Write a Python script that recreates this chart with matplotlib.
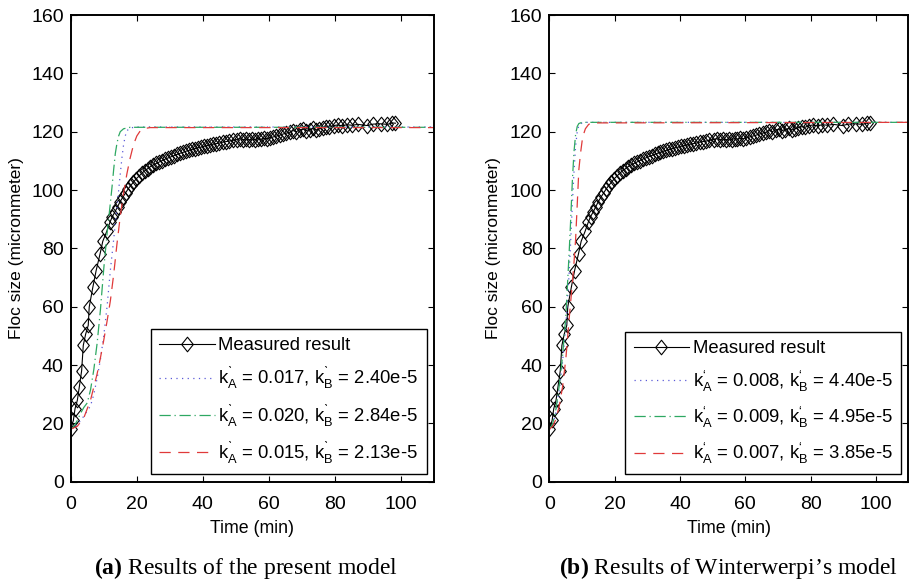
import numpy as np
import matplotlib
matplotlib.use("Agg")
import matplotlib.pyplot as plt

plt.rcParams['font.family'] = ['Liberation Sans', 'DejaVu Sans']
plt.rcParams['mathtext.fontset'] = 'custom'
plt.rcParams['mathtext.rm'] = 'Liberation Serif'
plt.rcParams['mathtext.bf'] = 'Liberation Serif:bold'
plt.rcParams['mathtext.fallback'] = 'stixsans'

# measured floc size (same series in both panels)
t_meas = [0, 0.8, 1.3, 2.0, 2.6, 3.3, 3.8, 4.5, 5.3, 5.6, 6.7, 7.7, 8.9, 9.7, 10.9,
          11.9, 12.6, 13.4, 14.2, 14.9, 15.8, 16.6, 17.4, 18.2, 19.0, 19.8, 20.7,
          21.5, 22.4, 23.3, 24.1, 25.0, 25.9, 26.8, 27.7, 28.6, 29.5, 30.4, 31.3,
          32.2, 33.1, 34.0, 34.9, 35.8, 36.7, 37.6, 38.5, 39.4, 40.3, 41.2, 42.1,
          43.0, 44.0, 45.0, 46.0, 47.0, 48.0, 49.0, 50.3, 51.3, 52.2, 53.1, 54.0,
          54.9, 55.8, 56.7, 57.6, 58.5, 59.4, 60.3, 61.3, 62.3, 63.3, 64.3, 65.3,
          66.3, 67.3, 68.3, 69.3, 70.3, 71.3, 72.3, 73.3, 74.3, 75.3, 76.3, 77.3,
          78.3, 79.6, 80.8, 82.2, 83.6, 85.1, 87.0, 89.8, 91.6, 93.8, 95.9, 97.4, 98.3]
y_meas = [18.2, 21.0, 25.0, 27.9, 32.5, 38.0, 46.7, 50.5, 53.6, 59.9, 66.7, 72.4, 78.2,
          82.4, 85.8, 89.0, 90.9, 92.5, 94.3, 95.9, 97.6, 99.0, 100.4, 101.6, 102.7,
          103.8, 104.8, 105.7, 106.6, 107.3, 108.0, 108.6, 109.1, 109.6, 110.1, 110.6,
          111.0, 111.4, 111.8, 112.2, 112.6, 112.9, 113.3, 113.6, 113.9, 114.2, 114.5,
          114.7, 115.0, 115.2, 115.5, 115.7, 115.9, 116.1, 116.4, 116.6, 116.8, 117.0,
          117.3, 117.6, 117.3, 117.5, 117.2, 117.5, 117.3, 117.6, 117.4, 117.7, 117.6,
          117.9, 118.2, 118.5, 118.8, 119.2, 119.5, 119.8, 120.4, 120.0, 120.6, 120.9,
          120.4, 120.7, 121.1, 120.6, 121.0, 121.4, 121.7, 121.5, 122.1, 122.3, 122.0,
          122.4, 122.2, 122.5, 122.1, 122.6, 122.7, 122.5, 123.0, 122.9]

# (a) present model
a_t1 = [0, 2, 4, 6, 7, 8, 9, 10, 11, 12, 13, 14, 15, 15.5, 16, 16.5, 17, 18, 20, 110]
a_y1 = [18, 19.5, 22.5, 26, 30, 35.5, 42, 50, 60, 72.5, 83, 94, 105.5, 111, 115.5,
        118.5, 120.3, 121.3, 121.6, 121.6]
a_t2 = [0, 1, 2, 3, 4, 5, 6, 7, 8, 9, 10, 11, 12, 12.5, 13, 13.5, 14, 14.5, 15, 16, 18, 110]
a_y2 = [18, 19, 21, 23.5, 25.5, 27, 31.5, 38.5, 47.5, 59, 73, 85, 95.5, 101, 107,
        112.5, 116, 118.5, 120, 121, 121.5, 121.5]
a_t3 = [0, 2, 4, 6, 8, 9, 10, 11, 12, 13, 14, 15, 16, 17, 18, 19, 20, 21, 22, 24, 110]
a_y3 = [18, 19, 22, 28, 37, 42.5, 48.5, 55, 62, 71, 81.5, 91, 99, 105.5, 111, 115.5,
        118.5, 120.2, 121, 121.4, 121.4]
a_labels = ['$\\mathregular{k^{\u02cb}_{A}}$ = 0.017, $\\mathregular{k^{\u02cb}_{B}}$ = 2.40e-5',
            '$\\mathregular{k^{\u02cb}_{A}}$ = 0.020, $\\mathregular{k^{\u02cb}_{B}}$ = 2.84e-5',
            '$\\mathregular{k^{\u02cb}_{A}}$ = 0.015, $\\mathregular{k^{\u02cb}_{B}}$ = 2.13e-5']

# (b) Winterwerp model
b_t1 = [0, 1, 2, 3, 4, 5, 6, 6.5, 7, 7.5, 8, 8.5, 9, 10, 11, 110]
b_y1 = [18, 19.5, 24, 31.5, 41, 53.5, 71, 82.5, 95, 106, 115, 120, 122.2, 123, 123.2, 123.2]
b_t2 = [0, 1, 2, 3, 4, 5, 6, 6.5, 7, 7.5, 8, 8.5, 9, 10, 110]
b_y2 = [18, 20, 25, 33, 43, 56.5, 78, 90, 103, 113, 119, 121.8, 122.8, 123.2, 123.2]
b_t3 = [0, 1, 2, 3, 4, 5, 6, 7, 7.5, 8, 8.5, 9, 9.5, 10, 10.5, 11, 12, 13, 110]
b_y3 = [18, 19, 21.5, 26, 32.5, 42, 55.5, 68, 75, 83, 95, 107, 112.5, 116.8, 119.3,
        121, 122.5, 123, 123.2]
b_labels = ['$\\mathregular{k^{\u2018}_{A}}$ = 0.008, $\\mathregular{k^{\u2018}_{B}}$ = 4.40e-5',
            '$\\mathregular{k^{\u2018}_{A}}$ = 0.009, $\\mathregular{k^{\u2018}_{B}}$ = 4.95e-5',
            '$\\mathregular{k^{\u2018}_{A}}$ = 0.007, $\\mathregular{k^{\u2018}_{B}}$ = 3.85e-5']

captions = [r'$\mathbf{(a)}$ Results of the present model',
            '$\\mathbf{(b)}$ Results of Winterwerpi\u2019s model']

diamond = [(-0.8, 0), (0, 1), (0.8, 0), (0, -1), (-0.8, 0)]

fig = plt.figure(figsize=(9.09, 5.84), dpi=100)
ax1 = fig.add_axes([0.0778, 0.1752, 0.3997, 0.7991])
ax2 = fig.add_axes([0.6045, 0.1752, 0.3949, 0.7991])

panels = [
    (ax1, [(a_t1, a_y1), (a_t2, a_y2), (a_t3, a_y3)], a_labels, -0.148),
    (ax2, [(b_t1, b_y1), (b_t2, b_y2), (b_t3, b_y3)], b_labels, -0.157),
]

for ax, curves, labels, ylab_x in panels:
    ax.plot(t_meas, y_meas, color='black', lw=0.8, marker=diamond, markersize=10.5,
            markerfacecolor='none', markeredgecolor='black', markeredgewidth=0.8,
            label='Measured result')
    (t1, y1), (t2, y2), (t3, y3) = curves
    ax.plot(t1, y1, color='#5a5ad8', lw=0.9, dashes=(1, 3.5), label=labels[0])
    ax.plot(t2, y2, color='#2ea862', lw=0.9, dashes=(9, 3, 1, 3), label=labels[1])
    ax.plot(t3, y3, color='#e03a3a', lw=0.9, dashes=(9, 6), label=labels[2])

    ax.set_xlim(0, 110)
    ax.set_ylim(0, 160)
    ax.set_xticks(range(0, 101, 20))
    ax.set_yticks(range(0, 161, 20))
    ax.tick_params(direction='in', top=True, right=True, length=4, width=0.8,
                   labelsize=14)
    ax.tick_params(axis='x', pad=10)
    ax.tick_params(axis='y', pad=5)
    for sp in ax.spines.values():
        sp.set_linewidth(1.4)

    ax.set_xlabel('Time (min)', fontsize=12.8)
    ax.set_ylabel('Floc size (micronmeter)', fontsize=12.5)
    ax.xaxis.set_label_coords(0.5, -0.1)
    ax.xaxis.label.set_va('center')
    ax.yaxis.set_label_coords(ylab_x, 0.5)
    ax.yaxis.label.set_va('center')

    leg = ax.legend(loc='lower right', fontsize=13.3, handlelength=3.0,
                    handletextpad=0.2, labelspacing=0.6, borderpad=0.45,
                    borderaxespad=0.4, fancybox=False, framealpha=1,
                    edgecolor='black')
    leg.get_frame().set_linewidth(1.0)

fig.text(246 / 909, 1 - 568 / 584, captions[0], family='Liberation Serif',
         fontsize=17, ha='center', va='center')
fig.text(728 / 909, 1 - 568 / 584, captions[1], family='Liberation Serif',
         fontsize=17, ha='center', va='center')

fig.savefig('out.png', dpi=100)
